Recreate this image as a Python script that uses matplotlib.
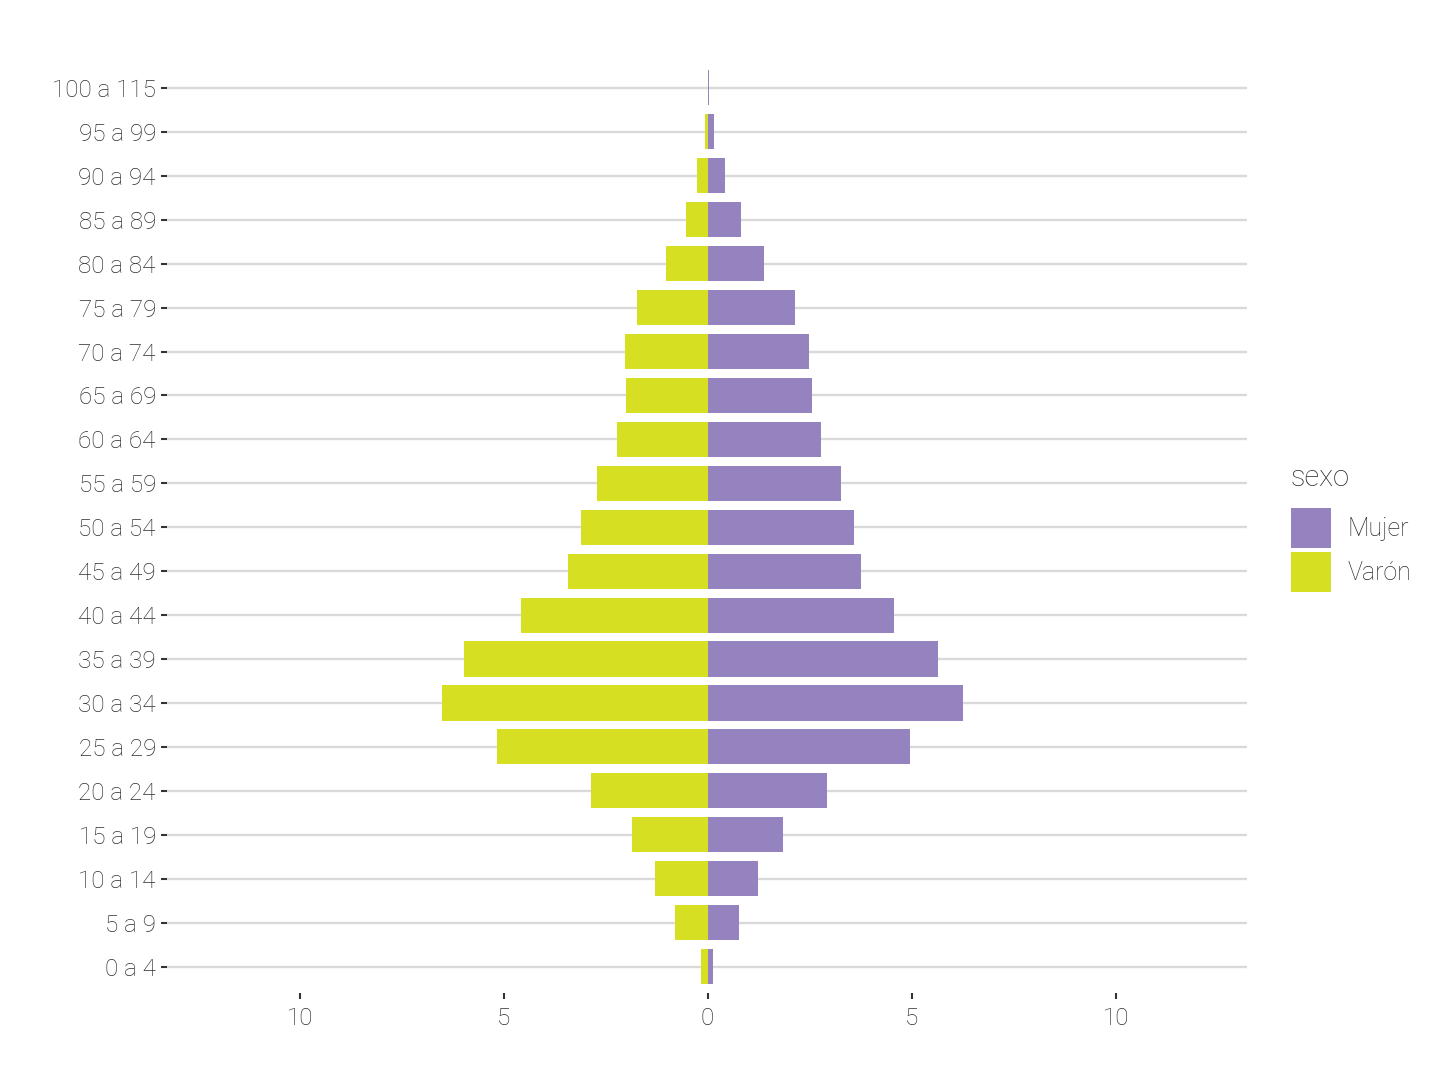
import numpy as np
import matplotlib
matplotlib.use("Agg")
import matplotlib.pyplot as plt
import matplotlib.patches as mpatches

# Age groups, bottom to top
GROUPS = [
    "0 a 4", "5 a 9", "10 a 14", "15 a 19", "20 a 24", "25 a 29", "30 a 34",
    "35 a 39", "40 a 44", "45 a 49", "50 a 54", "55 a 59", "60 a 64", "65 a 69",
    "70 a 74", "75 a 79", "80 a 84", "85 a 89", "90 a 94", "95 a 99", "100 a 115",
]

# Percent of population by sex
MUJER = [0.12, 0.76, 1.23, 1.84, 2.92, 4.95, 6.25, 5.64, 4.56, 3.75, 3.58,
         3.28, 2.79, 2.57, 2.48, 2.13, 1.37, 0.81, 0.42, 0.15, 0.03]
VARON = [0.15, 0.81, 1.30, 1.86, 2.87, 5.15, 6.52, 5.96, 4.58, 3.43, 3.11,
         2.70, 2.21, 1.99, 2.03, 1.72, 1.03, 0.54, 0.25, 0.07, 0.0]

X_TICKS = [-10, -5, 0, 5, 10]

PURPLE = "#9483bf"
YELLOW = "#d7df23"
TEXT = "#2e2e2e"

plt.rcParams["font.family"] = ["Roboto", "DejaVu Sans"]
plt.rcParams["font.weight"] = "light"

fig = plt.figure(figsize=(14.4, 10.8), dpi=100)
ax = fig.add_axes([167 / 1440, 0.0806, 1080 / 1440, 0.8624])

y = np.arange(len(GROUPS))
ax.barh(y, -np.array(VARON), height=0.8, color=YELLOW, linewidth=0,
        zorder=3, label="Varón")
ax.barh(y, MUJER, height=0.8, color=PURPLE, linewidth=0,
        zorder=3, label="Mujer")

ax.set_xlim(-13.25, 13.22)
ax.set_ylim(-0.6, len(GROUPS) - 0.4)
ax.set_yticks(y)
ax.set_yticklabels(GROUPS)
ax.set_xticks(X_TICKS)
ax.set_xticklabels([str(abs(t)) for t in X_TICKS])

ax.grid(True, axis="y", color="#d9d9d9", linewidth=1.7, zorder=0)
ax.grid(False, axis="x")
for s in ax.spines.values():
    s.set_visible(False)
ax.tick_params(axis="both", labelsize=17.5, labelcolor=TEXT, color="#333333",
               length=4, width=1.5)
ax.tick_params(axis="y", pad=4)
ax.tick_params(axis="x", pad=6)

# legend: title drawn separately to match the ggplot spacing
fig.text(1290 / 1440, 1 - 478 / 1080, "sexo", fontsize=21, color=TEXT,
         ha="left", va="center")
handles = [mpatches.Patch(facecolor=PURPLE, edgecolor="none", label="Mujer"),
           mpatches.Patch(facecolor=YELLOW, edgecolor="none", label="Varón")]
leg = fig.legend(handles=handles, loc="upper left",
                 bbox_to_anchor=(1291 / 1440, 1 - 508 / 1080), frameon=False,
                 fontsize=18, handlelength=1.6, handleheight=2.08,
                 handletextpad=0.65, labelspacing=0.15, borderaxespad=0,
                 borderpad=0)
for t in leg.get_texts():
    t.set_color(TEXT)

fig.savefig("out.png", dpi=100, facecolor="white")
